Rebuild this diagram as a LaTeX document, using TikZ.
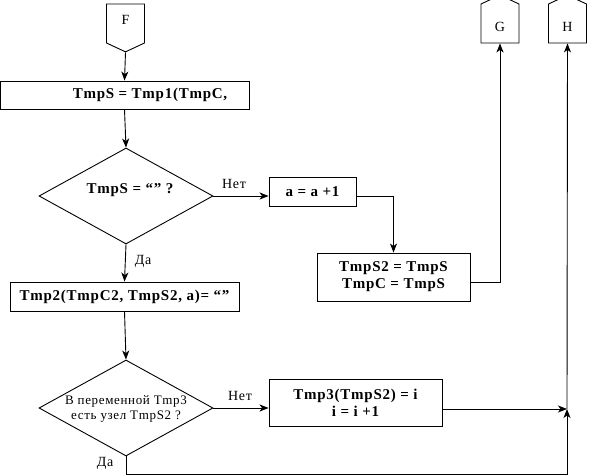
\documentclass[tikz,border=0pt]{standalone}
\usepackage{fontspec}
\setmainfont{Liberation Serif}[LetterSpace = 5]
\usepackage{tikz}
\usetikzlibrary{shapes.geometric}
\usetikzlibrary{shapes.symbols}
\usetikzlibrary{arrows.meta}

\begin{document}
\begin{tikzpicture}[
    x          = 1pt,
    y          = -1pt,
    line width = 0.9pt,
    every node/.style = {
        inner sep = 0pt,
        font      = \fontsize{14}{16}\selectfont,
    },
    procbox/.style = {
        shape     = rectangle,
        draw,
        align     = center,
        font      = \fontsize{15}{17}\selectfont\bfseries,
    },
    decision/.style = {
        shape          = diamond,
        draw,
        minimum width  = 174pt,
        minimum height = 96pt,
    },
    offpage/.style = {
        shape                 = signal,
        draw,
        signal from           = nowhere,
        signal pointer angle  = 130,
        minimum width         = 38pt,
        minimum height        = 39pt,
    },
    flow/.style = {
        -{Stealth[length = 9pt, width = 7pt, inset = 2.5pt]},
    },
]
    \useasboundingbox (0, 0) rectangle (590, 476);

    \coordinate (J) at (567, 409);
    \coordinate (K) at (567, 474);

    % connectors
    \node (F) at (125.5, 23.5) [offpage, signal to = south] {};
    \node at (125.5, 19.5) {F};
    \node (G) at (500, 23.5) [offpage, signal to = north] {};
    \node at (500, 27) {G};
    \node (H) at (567.5, 23.5) [offpage, signal to = north] {};
    \node at (567.5, 27) {H};

    % blocks
    \node (tmps)  at (124.5, 95)    [procbox, minimum width = 249pt, minimum height = 28pt]
        {\hspace*{51pt}TmpS = Tmp1(TmpC,};
    \node (empty) at (126, 196)     [decision] {};
    \node at (130, 190) [font = \fontsize{15}{17}\selectfont\bfseries] {TmpS = “” ?};
    \node (inca)  at (312.5, 191.5) [procbox, minimum width = 87pt, minimum height = 29pt]
        {a = a +1};
    \node (copy)  at (393.5, 277)   [procbox, minimum width = 153pt, minimum height = 48pt]
        {TmpS2 = TmpS\\TmpC = TmpS};
    \node (tmp2)  at (124.5, 296.5) [procbox, minimum width = 229pt, minimum height = 29pt]
        {Tmp2(TmpC2, TmpS2, a)= “”};
    \node (node3) at (126, 408)     [decision] {};
    \node at (126, 409) [align = center, font = \fontsize{13}{15.5}\selectfont]
        {В переменной Tmp3\\есть узел TmpS2 ?};
    \node (tmp3)  at (355.5, 402.5) [procbox, minimum width = 173pt, minimum height = 47pt]
        {Tmp3(TmpS2) = i\\i = i +1};

    % labels
    \node at (234, 184) {Нет};
    \node at (143, 261) {Да};
    \node at (240, 396) {Нет};
    \node at (105, 463) {Да};

    % flow
    \draw[flow] (F.south) -- (tmps.north);
    \draw[flow] (tmps.south) -- (empty.north);
    \draw[flow] (empty.east) -- (empty.east -| inca.west);
    \draw[flow] (empty.east -| inca.east) -| (copy.north);
    \draw[flow] ([yshift = -5pt]copy.east) -| (G.south);
    \draw[flow] (empty.south) -- (tmp2.north);
    \draw[flow] (tmp2.south) -- (node3.north);
    \draw[flow] (node3.east) -- (node3.east -| tmp3.west);
    \draw[flow] (tmp3.east |- J) -- (J);
    \draw[flow] (node3.south) |- (K) -- (J);
    \draw[flow] (J) -- (H.south);
\end{tikzpicture}
\end{document}
